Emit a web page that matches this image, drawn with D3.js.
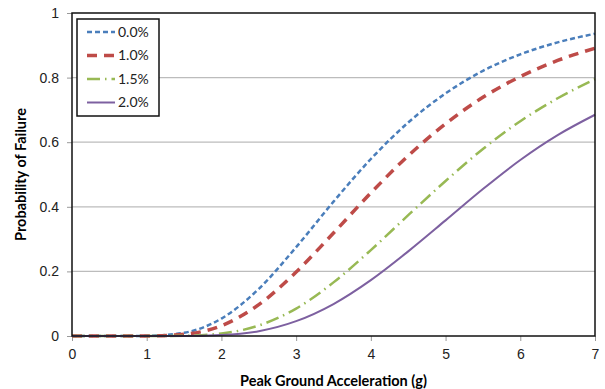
<!DOCTYPE html>
<html lang="en">
  <head>
    <meta charset="UTF-8" />
    <title>Probability of Failure</title>
    <script src="https://d3js.org/d3.v7.min.js"></script>
    <style>
      body {
        margin: 0;
        background: #fff;
      }
      svg {
        display: block;
        font-family: Lato, "Open Sans", sans-serif;
      }
    </style>
  </head>
  <body>
    <svg id="chart"></svg>
    <script>
      // values
      const pga = [0, 0.5, 1, 1.5, 2, 2.5, 3, 3.5, 4, 4.5, 5, 5.5, 6, 6.5, 7];
      const p00 = [0, 0, 0.0004, 0.01, 0.054, 0.146, 0.275, 0.416, 0.548, 0.661, 0.751, 0.821, 0.872, 0.909, 0.936];
      const p10 = [0, 0, 0.0002, 0.0053, 0.032, 0.097, 0.198, 0.319, 0.443, 0.558, 0.657, 0.739, 0.803, 0.853, 0.891];
      const p15 = [0, 0, 0, 0.0008, 0.0078, 0.0325, 0.085, 0.166, 0.266, 0.374, 0.48, 0.579, 0.665, 0.736, 0.795];
      const p20 = [0, 0, 0, 0, 0.003, 0.015, 0.046, 0.099, 0.173, 0.262, 0.358, 0.455, 0.545, 0.622, 0.685];
      const seriesNames = ["0.0%", "1.0%", "1.5%", "2.0%"];
      const xTicks = [0, 1, 2, 3, 4, 5, 6, 7];
      const yTicks = [0, 0.2, 0.4, 0.6, 0.8, 1];

      const series = [
        { name: seriesNames[0], values: p00, color: "#4a7ebb", width: 2.5, dash: "5,3" },
        { name: seriesNames[1], values: p10, color: "#be4b48", width: 3.5, dash: "10,7" },
        { name: seriesNames[2], values: p15, color: "#98b954", width: 2.5, dash: "13,5,1.5,5" },
        { name: seriesNames[3], values: p20, color: "#7d60a0", width: 2, dash: null },
      ];

      const width = 605;
      const height = 389;
      const margin = { top: 13, right: 10, bottom: 53, left: 72 };

      const svg = d3.select("#chart").attr("width", width).attr("height", height);

      const x = d3.scaleLinear().domain([0, 7]).range([margin.left, width - margin.right]);
      const y = d3.scaleLinear().domain([0, 1]).range([height - margin.bottom, margin.top]);

      // gridlines
      svg
        .append("g")
        .selectAll("line")
        .data(yTicks.filter((d) => d > 0 && d < 1))
        .join("line")
        .attr("x1", x(0))
        .attr("x2", x(7))
        .attr("y1", (d) => y(d))
        .attr("y2", (d) => y(d))
        .attr("stroke", "#bcbcbc")
        .attr("stroke-width", 1.2);

      // y axis
      const yAxis = svg
        .append("g")
        .attr("transform", `translate(${x(0)},0)`)
        .call(d3.axisLeft(y).tickValues(yTicks).tickFormat(d3.format("")).tickSize(5).tickPadding(8));
      yAxis.select(".domain").remove();
      yAxis.selectAll(".tick line").attr("stroke", "#999");
      yAxis.selectAll("text").attr("font-size", 14).attr("fill", "#222");

      // x axis
      const xAxis = svg
        .append("g")
        .attr("transform", `translate(0,${y(0)})`)
        .call(d3.axisBottom(x).tickValues(xTicks).tickFormat(d3.format("d")).tickSize(5).tickPadding(8));
      xAxis.select(".domain").remove();
      xAxis.selectAll(".tick line").attr("stroke", "#999");
      xAxis.selectAll("text").attr("font-size", 14).attr("fill", "#222");

      // curves
      const line = d3
        .line()
        .x((d, i) => x(pga[i]))
        .y((d) => y(d))
        .curve(d3.curveMonotoneX);

      svg
        .append("g")
        .selectAll("path")
        .data(series)
        .join("path")
        .attr("d", (d) => line(d.values))
        .attr("fill", "none")
        .attr("stroke", (d) => d.color)
        .attr("stroke-width", (d) => d.width)
        .attr("stroke-dasharray", (d) => d.dash);

      // plot border
      svg
        .append("rect")
        .attr("x", x(0))
        .attr("y", y(1))
        .attr("width", x(7) - x(0))
        .attr("height", y(0) - y(1))
        .attr("fill", "none")
        .attr("stroke", "#111")
        .attr("stroke-width", 1.5);

      // legend
      const legend = svg.append("g").attr("transform", "translate(77,19)");
      legend
        .append("rect")
        .attr("width", 82)
        .attr("height", 97)
        .attr("fill", "#fff")
        .attr("stroke", "#111")
        .attr("stroke-width", 1.5);
      const item = legend
        .selectAll("g")
        .data(series)
        .join("g")
        .attr("transform", (d, i) => `translate(0,${13 + i * 23.5})`);
      item
        .append("line")
        .attr("x1", 10)
        .attr("x2", 38)
        .attr("stroke", (d) => d.color)
        .attr("stroke-width", (d) => d.width)
        .attr("stroke-dasharray", (d) => d.dash);
      item
        .append("text")
        .attr("x", 41)
        .attr("dy", "0.35em")
        .attr("font-size", 14)
        .attr("fill", "#222")
        .text((d) => d.name);

      // axis titles
      svg
        .append("text")
        .attr("x", (x(0) + x(7)) / 2)
        .attr("y", 386)
        .attr("text-anchor", "middle")
        .attr("font-size", 14.5)
        .attr("font-weight", "bold")
        .text("Peak Ground Acceleration (g)");

      svg
        .append("text")
        .attr("transform", `translate(26,${(y(0) + y(1)) / 2}) rotate(-90)`)
        .attr("text-anchor", "middle")
        .attr("font-size", 14.5)
        .attr("font-weight", "bold")
        .text("Probability of Failure");
    </script>
  </body>
</html>
